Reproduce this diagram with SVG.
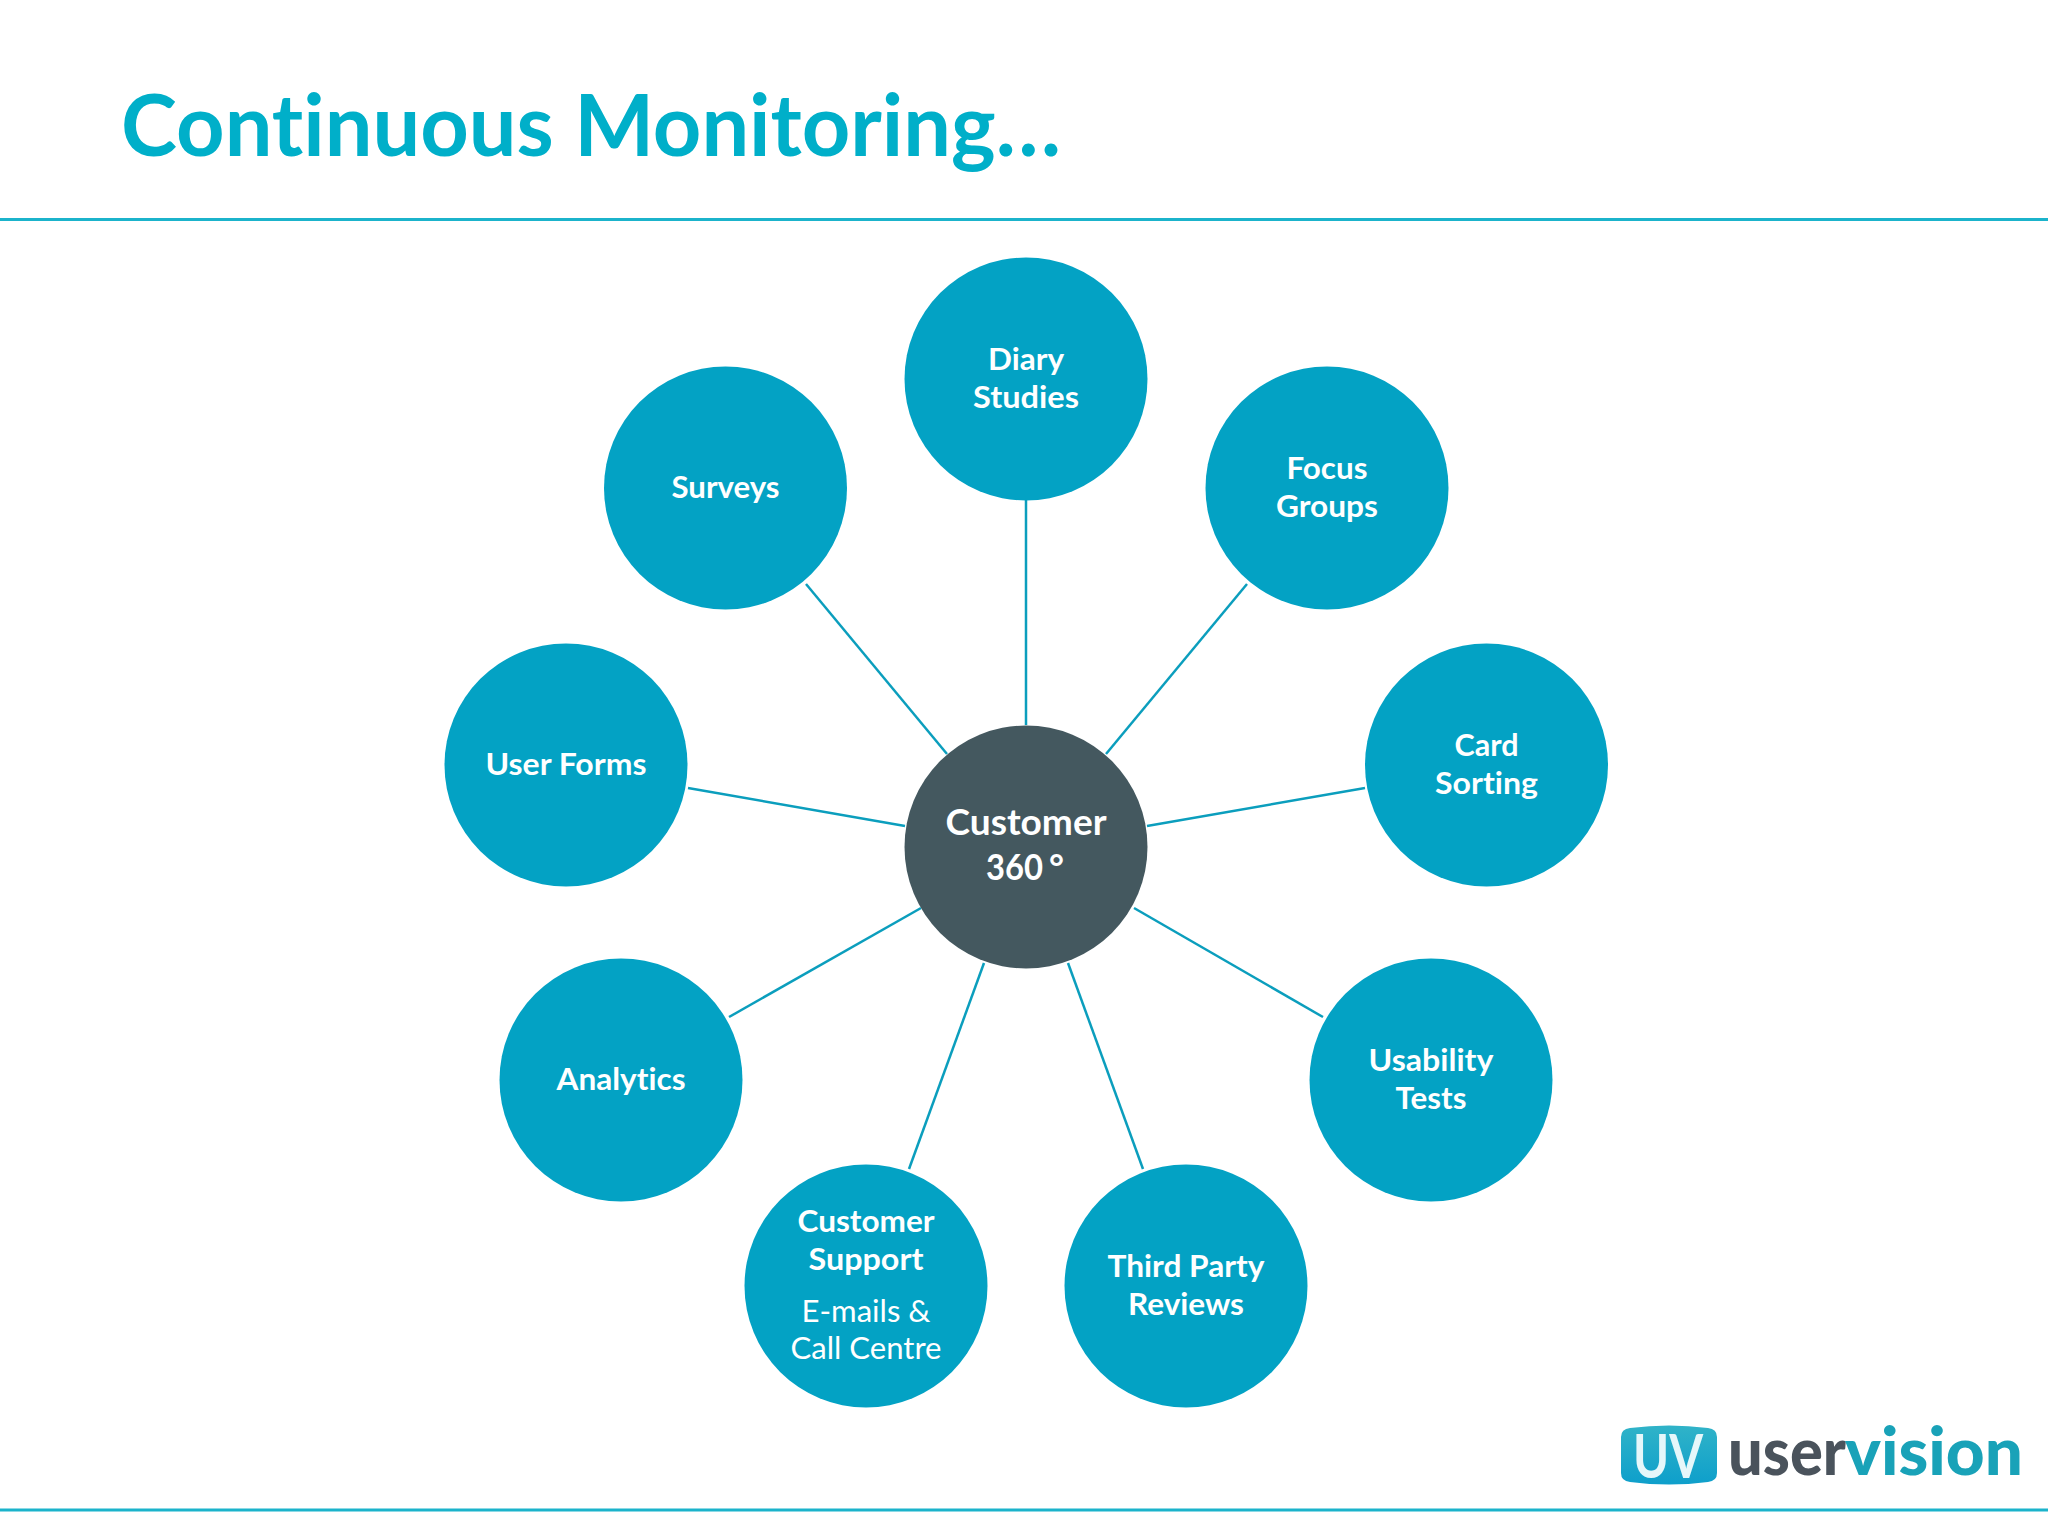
<svg xmlns="http://www.w3.org/2000/svg" width="2048" height="1536" viewBox="0 0 2048 1536">
<defs>
<style>
text{font-family:"Lato","Carlito","Open Sans",sans-serif;text-anchor:middle;fill:#fff;font-weight:700;font-variant-ligatures:none}
.n{font-size:30.500px}
.r{font-weight:400}
.c{font-size:36px}
.node{fill:#03A2C4}
.rule{stroke:#1BB3CB;stroke-width:3;fill:none}
#connectors line{stroke:#0B9EBD;stroke-width:2.500}
</style>
<linearGradient id="badge" x1="0" y1="0" x2="0" y2="1"><stop offset="0" stop-color="#30B3C8"/><stop offset="1" stop-color="#0E9FCB"/></linearGradient>
</defs>
<rect width="2048" height="1536" fill="#fff"/>
<text x="591" y="156" font-size="87" style="fill:#00AFC9" textLength="940" lengthAdjust="spacingAndGlyphs">Continuous Monitoring…</text>
<line class="rule" x1="0" y1="219.500" x2="2048" y2="219.500"/>
<line class="rule" x1="0" y1="1510" x2="2048" y2="1510"/>
<g id="connectors">
<line x1="1026" y1="500" x2="1026" y2="725"/>
<line x1="1247" y1="584" x2="1106" y2="754"/>
<line x1="1365" y1="788" x2="1147" y2="826"/>
<line x1="1323" y1="1017" x2="1134" y2="908"/>
<line x1="1143" y1="1169" x2="1068" y2="963"/>
<line x1="909" y1="1169" x2="984" y2="963"/>
<line x1="729" y1="1017" x2="921" y2="908"/>
<line x1="688" y1="788" x2="905" y2="826"/>
<line x1="806" y1="584" x2="947" y2="754"/>
</g>
<g id="node-center"><circle cx="1026" cy="847" r="121.500" fill="#44585F"/>
<text class="c" x="1026" y="835" textLength="161" lengthAdjust="spacingAndGlyphs">Customer</text>
<text class="c" x="986" y="880" style="text-anchor:start"><tspan textLength="57" lengthAdjust="spacingAndGlyphs">360</tspan><tspan x="1049">°</tspan></text></g>
<g id="node-diary"><circle class="node" cx="1026" cy="379" r="121.500"/>
<text class="n" x="1026" y="370" textLength="76" lengthAdjust="spacingAndGlyphs">Diary</text>
<text class="n" x="1026" y="408" textLength="106" lengthAdjust="spacingAndGlyphs">Studies</text></g>
<g id="node-focus"><circle class="node" cx="1327" cy="488" r="121.500"/>
<text class="n" x="1327" y="479" textLength="81" lengthAdjust="spacingAndGlyphs">Focus</text>
<text class="n" x="1327" y="517" textLength="102" lengthAdjust="spacingAndGlyphs">Groups</text></g>
<g id="node-card"><circle class="node" cx="1486.500" cy="765" r="121.500"/>
<text class="n" x="1486.500" y="756" textLength="64" lengthAdjust="spacingAndGlyphs">Card</text>
<text class="n" x="1486.500" y="794" textLength="103" lengthAdjust="spacingAndGlyphs">Sorting</text></g>
<g id="node-usability"><circle class="node" cx="1431" cy="1080" r="121.500"/>
<text class="n" x="1431" y="1071" textLength="125" lengthAdjust="spacingAndGlyphs">Usability</text>
<text class="n" x="1431" y="1109" textLength="71" lengthAdjust="spacingAndGlyphs">Tests</text></g>
<g id="node-third"><circle class="node" cx="1186" cy="1286" r="121.500"/>
<text class="n" x="1186" y="1277" textLength="157" lengthAdjust="spacingAndGlyphs">Third Party</text>
<text class="n" x="1186" y="1315" textLength="116" lengthAdjust="spacingAndGlyphs">Reviews</text></g>
<g id="node-support"><circle class="node" cx="866" cy="1286" r="121.500"/>
<text class="n" x="866" y="1232" textLength="137" lengthAdjust="spacingAndGlyphs">Customer</text>
<text class="n" x="866" y="1270" textLength="115" lengthAdjust="spacingAndGlyphs">Support</text>
<text class="n r" x="866" y="1322" textLength="129" lengthAdjust="spacingAndGlyphs">E-mails &amp;</text>
<text class="n r" x="866" y="1359" textLength="151" lengthAdjust="spacingAndGlyphs">Call Centre</text></g>
<g id="node-analytics"><circle class="node" cx="621" cy="1080" r="121.500"/>
<text class="n" x="621" y="1090" textLength="129" lengthAdjust="spacingAndGlyphs">Analytics</text></g>
<g id="node-userforms"><circle class="node" cx="566" cy="765" r="121.500"/>
<text class="n" x="566" y="775" textLength="161" lengthAdjust="spacingAndGlyphs">User Forms</text></g>
<g id="node-surveys"><circle class="node" cx="725.500" cy="488" r="121.500"/>
<text class="n" x="725.500" y="498" textLength="108" lengthAdjust="spacingAndGlyphs">Surveys</text></g>
<g id="logo">
<path d="M1621 1437Q1621 1429 1630 1428Q1669 1423 1708 1428Q1717 1429 1717 1437V1473Q1717 1481 1708 1482Q1669 1487 1630 1482Q1621 1481 1621 1473Z" fill="url(#badge)"/>
<text x="1668" y="1478" font-size="62" style="fill:#E6F7FA;font-weight:700" textLength="70" lengthAdjust="spacingAndGlyphs">UV</text>
<text x="1787" y="1475" font-size="66" style="fill:#4A535C;font-weight:900" textLength="118" lengthAdjust="spacingAndGlyphs">user</text>
<text x="1934" y="1475" font-size="66" style="fill:#19A2B8;font-weight:900" textLength="178" lengthAdjust="spacingAndGlyphs">vision</text>
</g>
</svg>
